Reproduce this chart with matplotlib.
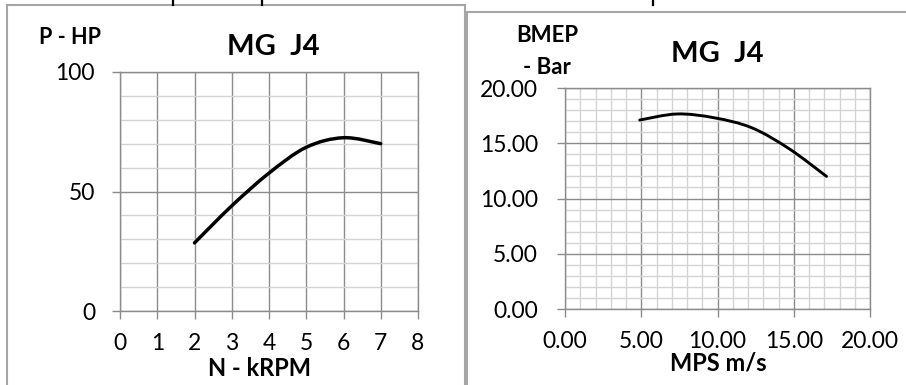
"""
MG J4 engine curves: power vs rpm, bmep vs mean piston speed
"""
import matplotlib
matplotlib.use("Agg")
import matplotlib.pyplot as plt
from matplotlib.path import Path
from matplotlib.patches import PathPatch
from matplotlib.lines import Line2D
from matplotlib.ticker import MultipleLocator, FormatStrFormatter

plt.rcParams['font.family'] = ['Lato', 'DejaVu Sans']

# data
rpm_k = [2, 3, 4, 5, 6, 7]
power_hp = [28.5, 44.0, 57.7, 68.5, 72.5, 70.0]
mps = [4.9, 7.35, 9.8, 12.25, 14.7, 17.15]
bmep_bar = [17.1, 17.65, 17.3, 16.4, 14.5, 12.0]

W, H = 906, 385
MAJOR = '#8c8c8c'
MINOR = '#d4d4d4'
FRAME = '#a6a6a6'


def smooth_path(xs, ys):
    # excel style smoothed line: cubic bezier through every point
    pts = list(zip(xs, ys))
    verts = [pts[0]]
    codes = [Path.MOVETO]
    n = len(pts)
    for i in range(n - 1):
        p0 = pts[i - 1] if i > 0 else pts[i]
        p1 = pts[i]
        p2 = pts[i + 1]
        p3 = pts[i + 2] if i + 2 < n else pts[i + 1]
        c1 = (p1[0] + (p2[0] - p0[0]) / 6, p1[1] + (p2[1] - p0[1]) / 6)
        c2 = (p2[0] - (p3[0] - p1[0]) / 6, p2[1] - (p3[1] - p1[1]) / 6)
        verts += [c1, c2, p2]
        codes += [Path.CURVE4] * 3
    return Path(verts, codes)


def px(x, y):
    return x / W, 1 - y / H


def style_axes(ax, ypad):
    for s in ax.spines.values():
        s.set_color(MAJOR)
        s.set_linewidth(1.0)
    ax.grid(True, which='major', color=MAJOR, lw=1.0)
    ax.grid(True, which='minor', color=MINOR, lw=1.0)
    ax.set_axisbelow(True)
    ax.tick_params(which='major', direction='out', length=6, width=1,
                   color=MAJOR, labelsize=16.5)
    ax.tick_params(axis='x', pad=10)
    ax.tick_params(axis='y', pad=ypad)
    ax.tick_params(which='minor', length=0)


fig = plt.figure(figsize=(W / 100, H / 100), dpi=100)

# left chart
ax1 = fig.add_axes([120 / W, 1 - 311 / H, 298 / W, 239 / H])
ax1.set_xlim(0, 8)
ax1.set_ylim(0, 100)
ax1.xaxis.set_major_locator(MultipleLocator(1))
ax1.yaxis.set_major_locator(MultipleLocator(50))
ax1.yaxis.set_minor_locator(MultipleLocator(10))
style_axes(ax1, 12)
ax1.add_patch(PathPatch(smooth_path(rpm_k, power_hp), fill=False,
                        lw=2.5, ec='black', capstyle='round'))

# right chart
ax2 = fig.add_axes([565 / W, 1 - 309 / H, 305 / W, 221 / H])
ax2.set_xlim(0, 20)
ax2.set_ylim(0, 20)
ax2.xaxis.set_major_locator(MultipleLocator(5))
ax2.xaxis.set_minor_locator(MultipleLocator(1))
ax2.yaxis.set_major_locator(MultipleLocator(5))
ax2.yaxis.set_minor_locator(MultipleLocator(1))
ax2.xaxis.set_major_formatter(FormatStrFormatter('%.2f'))
ax2.yaxis.set_major_formatter(FormatStrFormatter('%.2f'))
style_axes(ax2, 13.5)
ax2.add_patch(PathPatch(smooth_path(mps, bmep_bar), fill=False,
                        lw=2.1, ec='black', capstyle='round'))

# titles and labels
fig.text(*px(273, 47), 'MG  J4', fontsize=21, fontweight='bold', ha='center', va='center')
fig.text(*px(717, 54), 'MG  J4', fontsize=21, fontweight='bold', ha='center', va='center')
fig.text(*px(70, 38), 'P - HP', fontsize=15.5, fontweight='bold', ha='center', va='center')
fig.text(*px(260, 369), 'N - kRPM', fontsize=17, fontweight='bold', ha='center', va='center')
fig.text(*px(547, 35), 'BMEP', fontsize=16, fontweight='bold', ha='center', va='center')
fig.text(*px(547, 68), '- Bar', fontsize=16, fontweight='bold', ha='center', va='center')
fig.text(*px(718, 363), 'MPS m/s', fontsize=17, fontweight='bold', ha='center', va='center')

# chart frames and stray marks at the top
def fline(x0, y0, x1, y1, color=FRAME, lw=1.5):
    fig.add_artist(Line2D([x0 / W, x1 / W], [1 - y0 / H, 1 - y1 / H],
                          transform=fig.transFigure, color=color, lw=lw))

fline(7, 5, 465, 5)
fline(7, 5, 7, H)
fline(465, 5, 465, H)
fline(467, 12, W, 12)
fline(467, 12, 467, H)
for xm in [173, 262, 653]:
    fline(xm, 0, xm, 5, color='black', lw=1.6)

plt.savefig('out.png', dpi=100)
